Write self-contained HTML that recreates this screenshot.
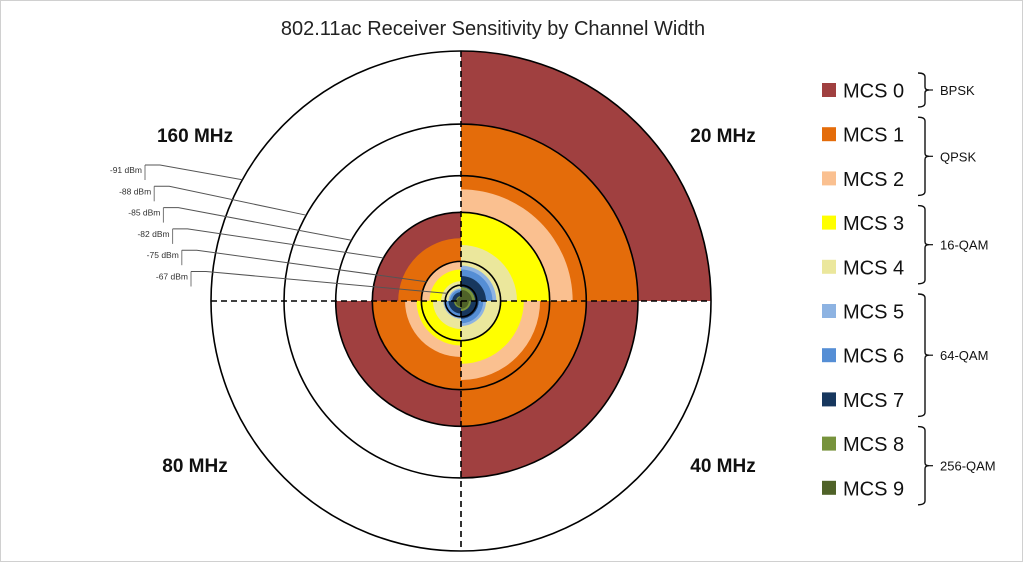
<!DOCTYPE html>
<html><head><meta charset="utf-8">
<style>
html,body{margin:0;padding:0;background:#fff;}
body{width:1024px;height:563px;overflow:hidden;font-family:"Liberation Sans",sans-serif;}
svg text{font-family:"Liberation Sans",sans-serif;}
</style></head>
<body>
<svg id="chart" width="1024" height="563" viewBox="0 0 1024 563">
<rect x="0.5" y="0.5" width="1022" height="561" fill="#fff" stroke="#d0d0d0"/>
<text x="493" y="35" font-size="20" text-anchor="middle" fill="#222">802.11ac Receiver Sensitivity by Channel Width</text>
<g id="sectors"></g>
<g id="rings"></g>
<g id="axes"></g>
<g id="callouts"></g>
<g id="quad-labels"></g>
<g id="legend"></g>
</svg>
<script>
const widths = ["20 MHz","40 MHz","80 MHz","160 MHz"];
const mcsNames = ["MCS 0","MCS 1","MCS 2","MCS 3","MCS 4","MCS 5","MCS 6","MCS 7","MCS 8","MCS 9"];
const sens20 = [-91,-88,-84,-82,-78,-74,-73,-71,-66,-64];
const sens40 = [-88,-85,-81,-79,-75,-71,-70,-68,-63,-61];
const sens80 = [-85,-82,-78,-76,-72,-68,-67,-65,-60,-58];
const sens160 = [-82,-79,-75,-73,-69,-65,-64,-62,-57,-55];
const ringLevels = [-91,-88,-85,-82,-75,-67];
const ringLabels = ["-91 dBm","-88 dBm","-85 dBm","-82 dBm","-75 dBm","-67 dBm"];
const groups = ["BPSK","QPSK","16-QAM","64-QAM","256-QAM"];
const groupStart = [0,1,3,5,8];
const groupEnd = [0,2,4,7,9];

const colors = ["#a04040","#e46c0a","#fac090","#ffff00","#ebe79c","#8db3e2","#558ed5","#17375e","#77933c","#4f6228"];
const NS = "http://www.w3.org/2000/svg";
const cx = 461, cy = 301, R = 250, REF = -91;
function rScale(d){ return R * Math.pow(10, (REF - d) / 20); }
function mk(tag, attrs, parent){ const e = document.createElementNS(NS, tag); for (const k in attrs) e.setAttribute(k, attrs[k]); parent.appendChild(e); return e; }

const quadStart = [-90, 0, 90, 180];
const series = [sens20, sens40, sens80, sens160];
const sectors = document.getElementById('sectors');
function pt(r, a){ const t = a * Math.PI / 180; return [cx + r * Math.cos(t), cy + r * Math.sin(t)]; }
series.forEach((vals, qi) => {
  const a0 = quadStart[qi], a1 = a0 + 90;
  vals.forEach((v, mi) => {
    const r = rScale(v);
    const p0 = pt(r, a0), p1 = pt(r, a1);
    const p = mk('path', {d:`M${cx},${cy} L${p0[0]},${p0[1]} A${r},${r} 0 0 1 ${p1[0]},${p1[1]} Z`, fill: colors[mi]}, sectors);
    
    
  });
});

const rings = document.getElementById('rings');
ringLevels.forEach((lv, i) => {
  const c = mk('circle', {cx: cx, cy: cy, r: rScale(lv), fill: 'none', stroke: '#000', 'stroke-width': 1.6}, rings);
  
  
});

const axes = document.getElementById('axes');
const hl = mk('line', {x1: cx - R, y1: cy, x2: cx + R, y2: cy, stroke: '#000', 'stroke-width': 1.6, 'stroke-dasharray': '6,4'}, axes);


const vl = mk('line', {x1: cx, y1: cy - R, x2: cx, y2: cy + R, stroke: '#000', 'stroke-width': 1.6, 'stroke-dasharray': '6,4'}, axes);



// callouts
const callouts = document.getElementById('callouts');
const calloutAng = 29 * Math.PI / 180;
ringLevels.forEach((lv, i) => {
  const tx = 145 + i * 9.2, ty = 165 + i * 21.3;
  const r = rScale(lv);
  const ex = cx - r * Math.cos(calloutAng), ey = cy - r * Math.sin(calloutAng);
  const g = mk('g', {}, callouts);
  
  
  mk('line', {x1: tx, y1: ty, x2: tx, y2: ty + 15, stroke: '#777', 'stroke-width': 1}, g);
  mk('polyline', {points: `${tx},${ty} ${tx + 15},${ty} ${ex},${ey}`, fill: 'none', stroke: '#555', 'stroke-width': 1}, g);
  const t = mk('text', {x: tx - 3, y: ty + 8, 'font-size': 8.5, 'text-anchor': 'end', fill: '#333'}, g);
  t.textContent = ringLabels[i];
});

const ql = document.getElementById('quad-labels');
const qpos = [[723,142],[723,472],[195,472],[195,142]];
widths.forEach((w, i) => {
  const t = mk('text', {x: qpos[i][0], y: qpos[i][1], 'font-size': 19, 'font-weight': 'bold', 'text-anchor': 'middle', fill: '#111'}, ql);
  
  
  t.textContent = w;
});

const lg = document.getElementById('legend');
const rowY = i => 90 + i * 44.2;
mcsNames.forEach((n, i) => {
  const g = mk('g', {}, lg);
  
  
  mk('rect', {x: 822, y: rowY(i) - 7, width: 14, height: 14, fill: colors[i]}, g);
  const t = mk('text', {x: 843, y: rowY(i) + 7.5, 'font-size': 20, fill: '#111'}, g);
  t.textContent = n;
});
groups.forEach((gname, i) => {
  const y0 = rowY(groupStart[i]) - 17, y1 = rowY(groupEnd[i]) + 17, ym = (y0 + y1) / 2;
  const g = mk('g', {}, lg);
  
  
  mk('path', {d: `M918,${y0} Q925,${y0} 925,${y0+4} L925,${ym-3} Q925,${ym} 929,${ym} Q925,${ym} 925,${ym+3} L925,${y1-4} Q925,${y1} 918,${y1}`, fill: 'none', stroke: '#111', 'stroke-width': 1.4}, g);
  mk('line', {x1: 929, y1: ym, x2: 933, y2: ym, stroke: '#111', 'stroke-width': 1.2}, g);
  const t = mk('text', {x: 940, y: ym + 5, 'font-size': 13, fill: '#111'}, g);
  t.textContent = gname;
});
</script>
</body></html>
